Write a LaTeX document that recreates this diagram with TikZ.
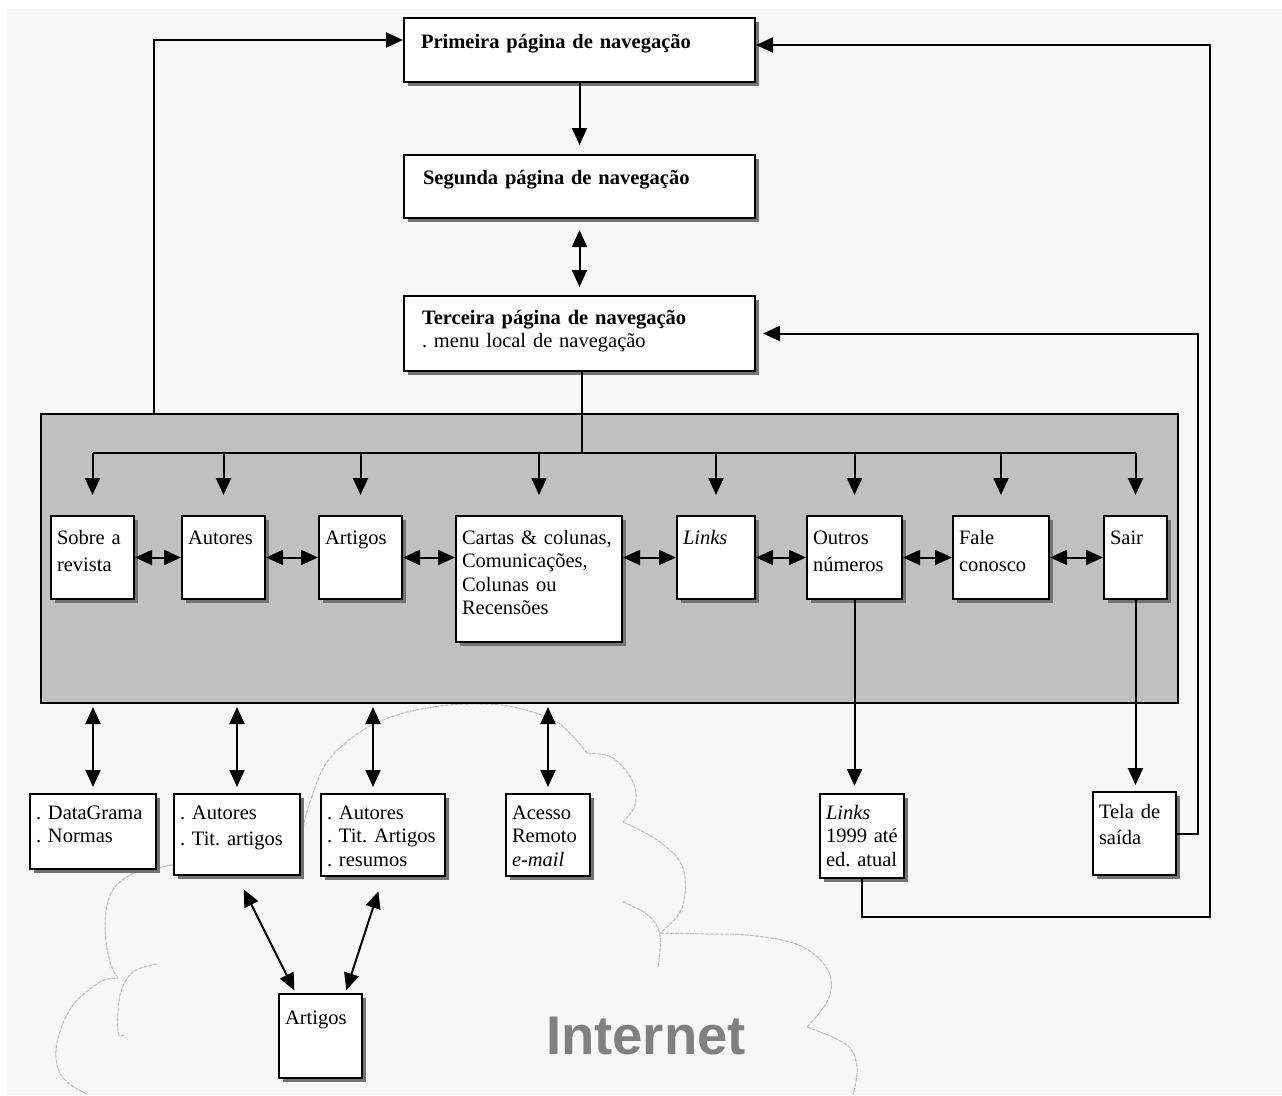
\documentclass[tikz,border=0pt]{standalone}
\usepackage{fontspec}
\setmainfont{Liberation Serif}
\newfontfamily\netfont{Liberation Sans}
\usetikzlibrary{arrows.meta,positioning,shadows}
\definecolor{pagebg}{HTML}{F7F7F7}
\definecolor{panelgray}{HTML}{C0C0C0}
\definecolor{cloudline}{HTML}{BDBDBD}
\definecolor{netgray}{HTML}{808080}
\frenchspacing

\begin{document}
\begin{tikzpicture}[x=1pt,y=-1pt,>={Triangle[length=17pt,width=15pt]},
 font=\fontsize{20.5}{23.5}\selectfont,
 box/.style={draw,fill=white,line width=2pt,anchor=north west,align=left,
  inner xsep=6pt,inner ysep=5pt,text height=23pt,
  drop shadow={shadow xshift=4pt,shadow yshift=-4pt,fill=black!55,opacity=1}},
 port/.style={->,line width=2pt},
 both/.style={<->,line width=2pt},
 cloud/.style={draw=cloudline,line width=1pt,dash pattern=on 4pt off 1pt}]
\useasboundingbox (0,0) rectangle (1282,1095);
\fill[white] (0,0) rectangle (1282,1095);
\fill[pagebg] (7,9) rectangle (1282,1095);
% cloud behind everything
\draw[cloud] plot[smooth,tension=0.6] coordinates
 {(87,1094) (67,1082) (57,1065) (58,1038) (73,1005) (100,982) (118,978)};
\draw[cloud] plot[smooth,tension=0.6] coordinates
 {(118,978) (110,962) (105,928) (110,895) (130,875) (162,867) (240,850) (303,828)};
\draw[cloud] plot[smooth,tension=0.6] coordinates
 {(303,828) (310,802) (327,762) (360,732) (397,715) (440,706) (480,704) (513,707) (557,722) (587,753)};
\draw[cloud] plot[smooth,tension=0.6] coordinates
 {(587,753) (613,758) (633,782) (635,805) (623,822)};
\draw[cloud] plot[smooth,tension=0.6] coordinates
 {(623,822) (660,842) (683,868) (682,908) (660,933)};
\draw[cloud] plot[smooth,tension=0.6] coordinates
 {(660,933) (705,934) (747,935) (790,942) (815,955) (830,975) (828,1000) (807,1027)};
\draw[cloud] plot[smooth,tension=0.6] coordinates
 {(807,1027) (847,1045) (857,1068) (853,1095)};
\draw[cloud] plot[smooth,tension=0.6] coordinates
 {(157,964) (133,972) (120,995) (118,1032) (124,1035)};
\draw[cloud] plot[smooth,tension=0.6] coordinates
 {(623,902) (648,915) (660,935) (658,968)};
\node[text=netgray,anchor=base,font=\netfont\fontsize{54.5}{60}\selectfont\bfseries] (internet) at (646,1054) {Internet};
% navigation pages
\node[box,inner xsep=17pt,text width=317pt,text height=25pt,text depth=29pt] (prim) at (403,17)
 {\textbf{Primeira página de navegação}};
\node[box,inner xsep=19pt,text width=313pt,text height=24pt,text depth=29pt] (seg) at (403,154)
 {\textbf{Segunda página de navegação}};
\node[box,inner xsep=18pt,text width=315pt,text depth=42pt] (ter) at (403,295)
 {\textbf{Terceira página de navegação}\\. menu local de navegação};
% local menu
\node[draw,fill=panelgray,line width=2pt,anchor=north west,inner sep=0pt,
 minimum width=1137pt,minimum height=289pt] (menu) at (40,413) {};
\node[box,text width=71pt,text depth=50pt] (sobre) at (50,515) {Sobre a\\[3.5pt]revista};
\node[box,text width=71pt,text depth=50pt] (autores) at (181,515) {Autores};
\node[box,text width=71pt,text depth=50pt] (artigos) at (318,515) {Artigos};
\node[box,text width=154pt,text depth=93pt] (cartas) at (455,515)
 {Cartas \& colunas,\\Comunicações,\\Colunas ou\\Recensões};
\node[box,text width=66pt,text depth=50pt] (links) at (676,515) {\textit{Links}};
\node[box,text width=83pt,text depth=50pt] (outros) at (806,515) {Outros\\[3.5pt]números};
\node[box,text width=84pt,text depth=50pt] (fale) at (952,515) {Fale\\[3.5pt]conosco};
\node[box,text width=51pt,text depth=50pt] (sair) at (1103,515) {Sair};
% outside the menu
\node[box,text width=114pt,text height=20pt,text depth=45pt] (datagrama) at (29,793)
 {. DataGrama\\. Normas};
\node[box,text width=114pt,text height=20pt,text depth=51pt] (autores2) at (173,793)
 {. Autores\\[2.5pt]. Tit. artigos};
\node[box,text width=112pt,text height=20pt,text depth=52pt] (autores3) at (320,793)
 {. Autores\\. Tit. Artigos\\. resumos};
\node[box,text width=72pt,text height=20pt,text depth=52pt] (acesso) at (505,793)
 {Acesso\\Remoto\\\textit{e-mail}};
\node[box,text width=72pt,text height=20pt,text depth=54pt] (links2) at (819,793)
 {\textit{Links}\\1999 até\\ed. atual};
\node[box,text width=71pt,text height=21pt,text depth=52pt] (tela) at (1092,791)
 {Tela de\\[2.5pt]saída};
\node[box,text width=71pt,text height=25pt,text depth=49pt] (artigos2) at (278,993) {Artigos};
% connectors
\draw[port,shorten >=9pt] (prim.south) -- (seg.north);
\draw[both,shorten <=11pt,shorten >=8pt] (seg.south) -- (ter.north);
\coordinate (bus) at (582,453);
\draw[line width=2pt] (ter.south -| bus) -- (bus);
\draw[line width=2pt] (sobre.north |- bus) -- (sair.north |- bus);
\foreach \n in {sobre,autores,artigos,cartas,links,outros,fale,sair}
 \draw[port,shorten >=20pt] (\n.north |- bus) -- (\n.north);
\draw[both] (sobre.east) -- (autores.west);
\draw[both] (autores.east) -- (artigos.west);
\draw[both] (artigos.east) -- (cartas.west |- artigos.east);
\draw[both] (cartas.east |- links.west) -- (links.west);
\draw[both] (links.east) -- (outros.west);
\draw[both] (outros.east) -- (fale.west);
\draw[both] (fale.east) -- (sair.west);
\coordinate (resdrop) at ([xshift=-10pt]autores3.north);
\foreach \n in {datagrama,autores2,resdrop,acesso}
 \draw[both,shorten <=3pt,shorten >=6pt] (\n.north |- menu.south) -- (\n.north);
\draw[both,shorten <=15pt,shorten >=3pt] (autores2.south) -- (artigos2.120);
\draw[both,shorten <=15pt,shorten >=3pt] (autores3.south) -- (artigos2.60);
\draw[port,shorten >=7pt] (outros.south) -- (outros.south |- links2.north);
\draw[port,shorten >=6pt] (sair.south) -- (sair.south |- tela.north);
% way back to the first pages
\coordinate (backleft) at (154,40);
\draw[port] (menu.north -| backleft) -- (backleft) -- (prim.west |- backleft);
\coordinate (backright) at (1210,917);
\draw[port] (links2.south) |- (backright) |- ([yshift=5pt]prim.east);
\draw[port,shorten >=7pt] (tela.east) -- ++(21,0) |- (ter.east);
\end{tikzpicture}
\end{document}
